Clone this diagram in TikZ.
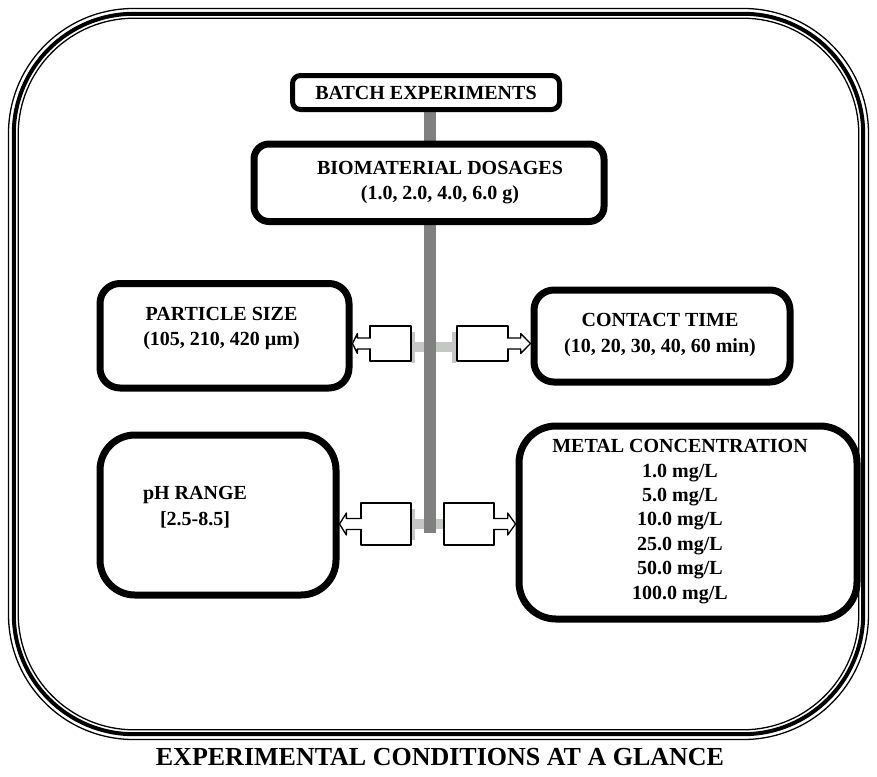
\documentclass[tikz,border=0pt]{standalone}
\usepackage{fontspec}
\setmainfont{Liberation Serif}
\usetikzlibrary{backgrounds}
\definecolor{trunkgray}{RGB}{128,128,128}
\definecolor{branchgray}{RGB}{196,199,196}

\begin{document}
\begin{tikzpicture}[x=1pt, y=-1pt, line join=round,
    box/.style={draw, fill=white, line width=7pt, rounded corners=#1, inner sep=0pt},
    box/.default=18pt,
    abox/.style={draw, fill=white, line width=1.3pt, inner sep=0pt},
    ahead/.style={draw, fill=white, line width=1.3pt},
    lbl/.style={font=\fontsize{20}{25.5}\selectfont\bfseries, align=center, inner sep=0pt},
    trunk/.style={draw=trunkgray, line width=12pt},
    branch/.style={draw=branchgray, line width=10pt},
    branchcap/.style={draw=branchgray, line width=4pt}]
  \useasboundingbox (0,0) rectangle (877,776);
  % outer frame, three lines
  \draw[line width=1.3pt, rounded corners=125pt] (8.5,8.5) rectangle (868.5,739.5);
  \draw[line width=4pt, rounded corners=120pt] (13.8,13.8) rectangle (863.2,734.2);
  \draw[line width=1.3pt, rounded corners=116pt] (18.2,18.2) rectangle (858.8,729.8);
  \path (430,533) coordinate (stem);
  % boxes
  \node[box=8pt, line width=5pt, minimum width=267pt, minimum height=34pt] (batch) at (426,92.5) {};
  \node[box=15pt, minimum width=350pt, minimum height=77.5pt] (bio) at (429,182.75) {};
  \node[box=20pt, minimum width=249pt, minimum height=104.5pt] (particle) at (224.5,335.75) {};
  \node[box=20pt, minimum width=256pt, minimum height=92pt] (contact) at (662,336) {};
  \node[box=35pt, minimum width=236pt, minimum height=160pt] (ph) at (218,515) {};
  \node[box=37pt, minimum width=338pt, minimum height=193pt] (metal) at (688,522.5) {};
  \node[lbl] (batchtxt) at (batch) {BATCH EXPERIMENTS};
  \node[lbl] (biotxt) at (440,182.4) {BIOMATERIAL DOSAGES\\(1.0, 2.0, 4.0, 6.0 g)};
  \node[lbl] (particletxt) at (221.5,328.4) {PARTICLE SIZE\\(105, 210, 420 µm)};
  \node[lbl] (contacttxt) at (660,334.9) {CONTACT TIME\\(10, 20, 30, 40, 60 min)};
  \node[lbl] (phtxt) at (195,507.3) {pH RANGE\\{[}2.5-8.5]};
  \node[lbl, font=\fontsize{20}{24.4}\selectfont\bfseries] (metaltxt) at (680,521.4)
    {METAL CONCENTRATION\\1.0 mg/L\\5.0 mg/L\\10.0 mg/L\\25.0 mg/L\\50.0 mg/L\\100.0 mg/L};
  % block arrows
  \node[abox, minimum width=41pt, minimum height=35pt] (al1) at (390.5,343.5) {};
  \node[abox, minimum width=51pt, minimum height=35pt] (ar1) at (482.5,343.5) {};
  \node[abox, minimum width=50pt, minimum height=42pt] (al2) at (386,524) {};
  \node[abox, minimum width=50pt, minimum height=42pt] (ar2) at (469,524) {};
  \foreach \b/\s/\t/\ts/\d/\n/\h in {al1/west/particle/east/-1/12/10, ar1/east/contact/west/1/12/10,
      al2/west/ph/east/-1/14/11, ar2/east/metal/west/1/13/11}
    \filldraw[ahead] ([xshift={(\d)*(-1.6pt)}, yshift=5.5pt]\b.\s) -- ([xshift={\d*\n*1pt}, yshift=5.5pt]\b.\s)
      -- ([xshift={\d*\n*1pt}, yshift={\h*1pt}]\b.\s) -- (\t.\ts |- \b.\s)
      -- ([xshift={\d*\n*1pt}, yshift={-\h*1pt}]\b.\s) -- ([xshift={\d*\n*1pt}, yshift=-5.5pt]\b.\s)
      -- ([xshift={(\d)*(-1.6pt)}, yshift=-5.5pt]\b.\s);
  % connectors behind
  \begin{scope}[on background layer]
    \draw[branch] ([yshift=-3.5pt]al1.east) -- ([yshift=-3.5pt]ar1.west);
    \draw[branch] (al2.east) -- (ar2.west);
    \foreach \n/\s/\dx/\dy in {al1/east/1.5/-3.5, ar1/west/-2/-3.5, al2/east/1.5/0}
      \draw[branchcap] ([xshift=\dx pt, yshift=\dy pt]\n.\s) ++(0,-15.5) -- ++(0,31);
    \draw[trunk] (stem |- batch.south) -- (stem);
  \end{scope}
  \node[font=\fontsize{26}{30}\selectfont\bfseries, inner sep=0pt] (caption) at (440,757)
    {EXPERIMENTAL CONDITIONS AT A GLANCE};
\end{tikzpicture}
\end{document}
